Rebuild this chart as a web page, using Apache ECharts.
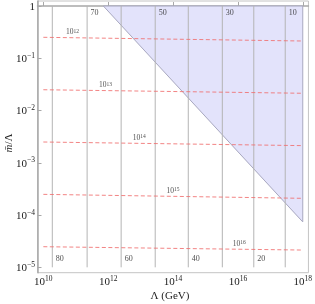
<!DOCTYPE html>
<html><head><meta charset="utf-8">
<script src="https://cdn.jsdelivr.net/npm/echarts@6/dist/echarts.min.js"></script>
<style>html,body{margin:0;padding:0;background:#fff}#c{width:315px;height:304px}</style>
</head><body><div id="c"></div>
<script>
// ---- data ----
const xTickExponents = [10, 12, 14, 16, 18];
const yTickExponents = [-5, -4, -3, -2, -1, 0];
const vLineLambda = [1.89e10, 2.24e11, 2.51e12, 2.82e13, 2.95e14, 3.31e15, 3.09e16, 2.88e17];
const vLineLabels = ['80', '70', '60', '50', '40', '30', '20', '10'];
const vLineRatioRange = [1e-5, 1];
const dashLabels = ['12', '13', '14', '15', '16'];
const dashLambdaRange = [1e10, 1e18];
const dashRatioLeft = [0.252, 0.0250, 0.00250, 2.49e-4, 2.48e-5];
const dashRatioRight = [0.214, 0.0214, 0.00213, 2.09e-4, 2.14e-5];
const dashLabelLambda = [7.9e10, 8.3e11, 9.1e12, 1.0e14, 1.1e16];
const regionLambda = [7.1e11, 1e18, 1e18];
const regionRatio = [1, 1, 7.4e-5];

const lg = Math.log10;
const FONT = 'Liberation Serif';
const TXT = '#222';
const sup = (base, s) => '{b|' + base + '}{s|' + s + '}';

const series = [];
// shaded region
series.push({
  type: 'custom', silent: true, animation: false, z: 1,
  data: [[lg(dashLambdaRange[0]), lg(vLineRatioRange[0])]],
  renderItem: function (params, api) {
    const pts = regionLambda.map((l, i) => api.coord([lg(l), lg(regionRatio[i])]));
    return { type: 'polygon', shape: { points: pts },
      style: { fill: '#e3e3fb', stroke: '#a8a8c0', lineWidth: 1 } };
  }
});
// vertical lines
vLineLambda.forEach(l => series.push({
  type: 'line', silent: true, animation: false, symbol: 'none', z: 2,
  data: [[lg(l), lg(vLineRatioRange[0])], [lg(l), lg(vLineRatioRange[1])]],
  lineStyle: { color: '#b4b4b4', width: 1 }
}));
// dashed lines
dashLabels.forEach((d, i) => series.push({
  type: 'line', silent: true, animation: false, symbol: 'none', z: 3,
  data: [[lg(dashLambdaRange[0]), lg(dashRatioLeft[i])], [lg(dashLambdaRange[1]), lg(dashRatioRight[i])]],
  lineStyle: { color: 'rgba(240,110,110,0.85)', width: 1, type: [4, 2.5] }
}));
// vertical line labels
series.push({
  type: 'scatter', silent: true, animation: false, symbolSize: 1, z: 4,
  itemStyle: { color: 'rgba(0,0,0,0)' },
  data: vLineLambda.map((l, i) => ({
    value: [lg(l), lg(i % 2 === 0 ? vLineRatioRange[0] : vLineRatioRange[1])],
    name: vLineLabels[i],
    label: { offset: [0, i % 2 === 0 ? -8 : 6.5] }
  })),
  label: { show: true, position: 'right', distance: 3, formatter: p => p.name,
    fontFamily: FONT, fontSize: 8, color: TXT }
});
// dashed line labels
series.push({
  type: 'scatter', silent: true, animation: false, symbolSize: 1, z: 4,
  itemStyle: { color: 'rgba(0,0,0,0)' },
  data: dashLabels.map((d, i) => {
    const x = lg(dashLabelLambda[i]);
    const x0 = lg(dashLambdaRange[0]), x1 = lg(dashLambdaRange[1]);
    const t = (x - x0) / (x1 - x0);
    const y = lg(dashRatioLeft[i]) + t * (lg(dashRatioRight[i]) - lg(dashRatioLeft[i]));
    return { value: [x, y], name: d };
  }),
  label: { show: true, position: 'top', distance: 1, formatter: p => sup('10', p.name),
    rich: {
      b: { fontFamily: FONT, fontSize: 7.5, color: TXT, lineHeight: 8, padding: [3, 0, 0, 0], verticalAlign: 'bottom' },
      s: { fontFamily: FONT, fontSize: 5.5, color: TXT, lineHeight: 6, verticalAlign: 'top' }
    } }
});

const chart = echarts.init(document.getElementById('c'), null, { renderer: 'canvas' });
chart.setOption({
  animation: false,
  backgroundColor: '#fff',
  grid: { left: 37.5, right: 4.7, top: 1, bottom: 31.3, show: true, borderColor: '#c4c4c4', borderWidth: 1 },
  xAxis: {
    type: 'value', min: 9.82, max: 18.175,
    axisLine: { show: true, lineStyle: { color: '#a8a8a8', width: 1.5 } },
    axisTick: { show: true, inside: true, length: 4, customValues: xTickExponents, lineStyle: { color: '#a8a8a8' } },
    splitLine: { show: false },
    axisLabel: { customValues: xTickExponents, margin: 2, formatter: v => sup('10', v),
      rich: {
        b: { fontFamily: FONT, fontSize: 11, color: TXT, lineHeight: 13, verticalAlign: 'bottom' },
        s: { fontFamily: FONT, fontSize: 7.5, color: TXT, lineHeight: 8, verticalAlign: 'top' }
      } }
  },
  yAxis: {
    type: 'value', min: -5.103, max: 0.096,
    axisLine: { show: true, lineStyle: { color: '#a8a8a8', width: 1.5 } },
    axisTick: { show: true, inside: true, length: 4, customValues: yTickExponents, lineStyle: { color: '#a8a8a8' } },
    splitLine: { show: false },
    axisLabel: { customValues: yTickExponents, margin: 2.5,
      formatter: v => v === 0 ? '{b|1}' : sup('10', '\u2212' + Math.abs(v)),
      rich: {
        b: { fontFamily: FONT, fontSize: 11, color: TXT, lineHeight: 13, verticalAlign: 'bottom' },
        s: { fontFamily: FONT, fontSize: 7.5, color: TXT, lineHeight: 8, verticalAlign: 'top' }
      } }
  },
  graphic: [
    { type: 'text', x: 9, y: 143, rotation: Math.PI / 2,
      style: { text: '{i|m\u0304}/\u039b', textAlign: 'center', textVerticalAlign: 'middle',
        font: '11px ' + FONT, fill: TXT,
        rich: { i: { fontFamily: FONT, fontStyle: 'italic', fontSize: 11, fill: TXT } } } },
    { type: 'text', x: 170, y: 296.5,
      style: { text: '\u039b (GeV)', textAlign: 'center', textVerticalAlign: 'middle',
        font: '11px ' + FONT, fill: TXT } }
  ],
  series: series
});
</script></body></html>
